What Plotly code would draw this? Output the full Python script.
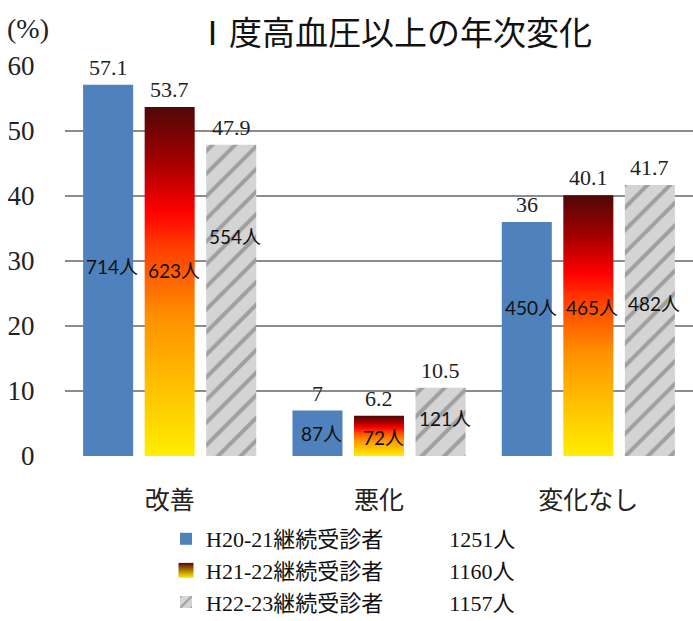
import plotly.graph_objects as go

# Data
categories = ["改善", "悪化", "変化なし"]
series_names = [
    "H20-21継続受診者\u3000\u3000\u30001251人",
    "H21-22継続受診者\u3000\u3000\u30001160人",
    "H22-23継続受診者\u3000\u3000\u30001157人",
]
pct_h20_21 = [57.1, 7.0, 36.0]
pct_h21_22 = [53.7, 6.2, 40.1]
pct_h22_23 = [47.9, 10.5, 41.7]
count_h20_21 = [714, 87, 450]
count_h21_22 = [623, 72, 465]
count_h22_23 = [554, 121, 482]

# Vertical placement (in %) of the head-count labels inside each bar
count_label_y = [
    [29.1, 3.5, 22.8],
    [28.5, 2.9, 22.9],
    [33.7, 5.8, 23.5],
]

serif = "Liberation Serif, Noto Sans CJK JP, serif"
cjk = "Noto Sans CJK JP, sans-serif"
sans = "Lato, Noto Sans CJK JP, sans-serif"

bar_w = 0.239
slot = 0.294
centers = [-slot, 0.0, slot]
xs = list(range(len(categories)))

fire_scale = [
    [0.0, "#FFEE00"],
    [0.2, "#FFC000"],
    [0.4, "#FF9000"],
    [0.6, "#FF3C00"],
    [0.7, "#FF0000"],
    [0.85, "#A00000"],
    [1.0, "#500808"],
]

fig = go.Figure()

# Series 1: solid blue bars
fig.add_trace(go.Bar(
    x=xs, y=pct_h20_21, width=bar_w, offset=centers[0] - bar_w / 2,
    marker=dict(color="#4F81BD", line=dict(width=0)),
    name=series_names[0], legendrank=1,
))

# Series 2: bars with a vertical fire gradient, each drawn as a filled polygon
for i, v in enumerate(pct_h21_22):
    x0 = xs[i] + centers[1] - bar_w / 2
    x1 = xs[i] + centers[1] + bar_w / 2
    fig.add_trace(go.Scatter(
        x=[x0, x1, x1, x0, x0], y=[0, 0, v, v, 0],
        mode="lines", fill="toself", line=dict(width=0),
        fillgradient=dict(type="vertical", colorscale=fire_scale, start=0, stop=v),
        legendgroup="g2", showlegend=False, hoverinfo="skip",
    ))

# Legend entry for series 2: a square swatch with a vertical gradient
fig.add_trace(go.Scatter(
    x=[None], y=[None], mode="markers",
    marker=dict(symbol="square", size=15, color="#5A0808",
                gradient=dict(type="vertical", color="#FFEE00")),
    name=series_names[1], legendgroup="g2", legendrank=2,
))

# Series 3: hatched grey bars
fig.add_trace(go.Bar(
    x=xs, y=pct_h22_23, width=bar_w, offset=centers[2] - bar_w / 2,
    marker=dict(
        color="#d4d4d4", line=dict(width=0),
        pattern=dict(shape="/", fgcolor="#6a6a6a", bgcolor="#d4d4d4",
                     size=16, solidity=0.25),
    ),
    name=series_names[2], legendrank=3,
))

# Value labels above bars and head-count labels inside bars
all_pct = [pct_h20_21, pct_h21_22, pct_h22_23]
all_cnt = [count_h20_21, count_h21_22, count_h22_23]
for s in range(3):
    for i in range(len(categories)):
        xc = xs[i] + centers[s]
        fig.add_annotation(
            x=xc, y=all_pct[s][i], text=f"{all_pct[s][i]:g}",
            showarrow=False, yanchor="bottom", yshift=3,
            font=dict(family=serif, size=22, color="#222"),
        )
        fig.add_annotation(
            x=xc, y=count_label_y[s][i], text=f"{all_cnt[s][i]}人",
            showarrow=False, xshift=4,
            font=dict(family=sans, size=19, color="#111"),
        )

fig.add_annotation(
    xref="paper", yref="paper", x=-0.096, y=1.0, yshift=55,
    text="(%)", showarrow=False, xanchor="left",
    font=dict(family=serif, size=28, color="#222"),
)

fig.update_layout(
    width=693, height=621,
    margin=dict(l=65, r=0, t=66, b=165, autoexpand=False),
    paper_bgcolor="white", plot_bgcolor="white",
    title=dict(
        text="Ⅰ度高血圧以上の年次変化",
        x=394 / 693, xanchor="center", y=1 - 33 / 621, yanchor="middle",
        font=dict(family=serif, size=33, color="#111"),
    ),
    showlegend=True,
    legend=dict(
        orientation="v", x=(166 - 65) / 628, xanchor="left",
        yref="container", y=1 - 518 / 621, yanchor="top", tracegroupgap=0,
        font=dict(family=serif, size=22, color="#111"),
        traceorder="normal", bgcolor="rgba(0,0,0,0)",
    ),
    xaxis=dict(
        range=[-0.5, 2.5], tickvals=xs, ticktext=categories,
        showgrid=False, zeroline=False, showline=False,
        ticks="outside", ticklen=22, tickcolor="rgba(0,0,0,0)",
        tickfont=dict(family=cjk, size=25, color="#222"),
        fixedrange=True,
    ),
    yaxis=dict(
        range=[0, 60], dtick=10, showgrid=True, gridcolor="#8c8c8c",
        gridwidth=2, zeroline=False, showline=False,
        ticks="outside", ticklen=24, tickcolor="rgba(0,0,0,0)",
        tickfont=dict(family=serif, size=27, color="#222"),
        fixedrange=True,
    ),
)

fig.write_html("out.html")
